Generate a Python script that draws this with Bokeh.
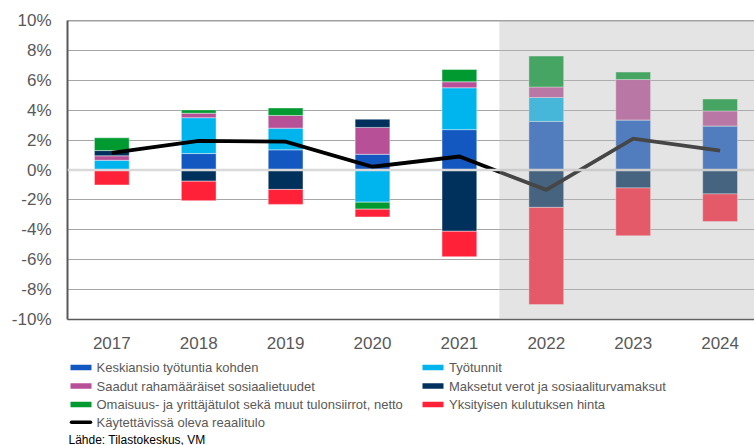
from bokeh.plotting import figure
from bokeh.models import (Range1d, FixedTicker, PrintfTickFormatter, Span, BoxAnnotation)
from bokeh.layouts import column
from bokeh.core.properties import value
from bokeh.embed import file_html
from bokeh.resources import INLINE

# ---------------- data ----------------
years = ["2017", "2018", "2019", "2020", "2021", "2022", "2023", "2024"]
series_names = [
    "Keskiansio työtuntia kohden",
    "Työtunnit",
    "Saadut rahamääräiset sosiaalietuudet",
    "Maksetut verot ja sosiaaliturvamaksut",
    "Omaisuus- ja yrittäjätulot sekä muut tulonsiirrot, netto",
    "Yksityisen kulutuksen hinta",
]
line_name = "Käytettävissä oleva reaalitulo"
source_note = "Lähde: Tilastokeskus, VM"

keskiansio = [0.0, 1.1, 1.35, 1.05, 2.7, 3.25, 3.35, 2.95]
tyotunnit = [0.65, 2.4, 1.45, -2.15, 2.8, 1.6, 0.0, 0.0]
saadut = [0.3, 0.3, 0.85, 1.8, 0.4, 0.7, 2.7, 1.0]
maksetut = [0.35, -0.75, -1.3, 0.55, -4.1, -2.5, -1.2, -1.6]
omaisuus = [0.85, 0.22, 0.5, -0.47, 0.82, 2.07, 0.5, 0.8]
hinta = [-1.0, -1.3, -1.0, -0.52, -1.7, -6.5, -3.2, -1.85]
reaalitulo = [1.15, 1.95, 1.9, 0.22, 0.9, -1.33, 2.1, 1.3]

y_ticks = [-10, -8, -6, -4, -2, 0, 2, 4, 6, 8, 10]
forecast_start = 4.46  # boundary of shaded forecast area (in category units)

colors = ["#1358C0", "#00B5EE", "#B85098", "#00305C", "#009A30", "#FF2138"]
series = [keskiansio, tyotunnit, saadut, maksetut, omaisuus, hinta]

FONT = "Liberation Sans"
GRAY_TXT = "#595959"
LEFT = 67

# ---------------- main chart ----------------
xs = list(range(len(years)))
p = figure(width=754, height=356, output_backend="svg", toolbar_location=None,
           x_range=Range1d(-0.51, 7.396), y_range=Range1d(-10, 10),
           min_border_left=LEFT, min_border_right=0, min_border_top=20,
           min_border_bottom=37)
p.outline_line_color = None
p.background_fill_color = "white"
p.border_fill_color = "white"

# stacking (positive and negative separately, in series order)
pos = [0.0] * len(years)
neg = [0.0] * len(years)
for vals, col in zip(series, colors):
    bottoms, tops = [], []
    for i, v in enumerate(vals):
        if v >= 0:
            bottoms.append(pos[i]); tops.append(pos[i] + v); pos[i] += v
        else:
            bottoms.append(neg[i]); tops.append(neg[i] + v); neg[i] += v
    p.vbar(x=xs, bottom=bottoms, top=tops, width=0.4, fill_color=col,
           line_color="white", line_width=0.6, line_alpha=0.7)

zero = Span(location=0, dimension="width", line_color="#D9D9D9", line_width=2.5)
p.add_layout(zero)

p.line(x=xs, y=reaalitulo, line_color="black", line_width=3.8, line_join="miter")

top_line = Span(location=10, dimension="width", line_color="#404040", line_width=1.5)
p.add_layout(top_line)

shade = BoxAnnotation(left=forecast_start, bottom=-10, top=10, fill_color="#B8B8B8",
                      fill_alpha=0.38, line_color=None, level="overlay")
p.add_layout(shade)

# axes
p.xgrid.visible = False
p.ygrid.ticker = FixedTicker(ticks=[t for t in y_ticks if t not in (0, 10, -10)])
p.ygrid.grid_line_color = "#A6A6A6"
p.ygrid.grid_line_width = 1

p.yaxis.ticker = FixedTicker(ticks=y_ticks)
p.yaxis.formatter = PrintfTickFormatter(format="%d%%")
p.xaxis.ticker = FixedTicker(ticks=xs)
p.xaxis.major_label_overrides = {i: y for i, y in enumerate(years)}
for ax in (p.xaxis, p.yaxis):
    ax.axis_line_color = "#595959"
    ax.major_tick_line_color = None
    ax.minor_tick_line_color = None
    ax.major_tick_out = 0
    ax.major_tick_in = 0
    ax.major_label_text_font = FONT
    ax.major_label_text_font_size = "17px"
    ax.major_label_text_color = GRAY_TXT
p.yaxis.axis_line_width = 2
p.xaxis.axis_line_width = 1.5
p.yaxis.major_label_standoff = 16
p.xaxis.major_label_standoff = 17

# ---------------- legend (separate panel, pixel coordinates) ----------------
LG_H = 89
lg = figure(width=754, height=LG_H, output_backend="svg", toolbar_location=None,
            x_range=Range1d(LEFT, 754), y_range=Range1d(LG_H, 0),
            x_axis_type=None, y_axis_type=None,
            min_border_left=LEFT, min_border_right=0, min_border_top=0, min_border_bottom=0)
lg.outline_line_color = None
lg.xgrid.visible = False
lg.ygrid.visible = False
lg.background_fill_color = "white"
lg.border_fill_color = "white"

row_y = [11, 29.5, 48, 65.7]
col_sw = [70, 422]
col_tx = [96, 448.5]
for k, (name, col) in enumerate(zip(series_names, colors)):
    r, c = k // 2, k % 2
    lg.quad(left=[col_sw[c]], right=[col_sw[c] + 21], top=[row_y[r] - 2.8],
            bottom=[row_y[r] + 2.8], fill_color=col, line_color=None)
    lg.text(x=[col_tx[c]], y=[row_y[r]], text=[name], text_font=value(FONT),
            text_font_size="13px", text_color=GRAY_TXT, text_baseline="middle")
lg.line(x=[col_sw[0] + 1, col_sw[0] + 20], y=[row_y[3], row_y[3]], line_color="black",
        line_width=3.5, line_cap="round")
lg.text(x=[col_tx[0]], y=[row_y[3]], text=[line_name], text_font=value(FONT),
        text_font_size="13px", text_color=GRAY_TXT, text_baseline="middle")
lg.text(x=[68], y=[83], text=[source_note], text_font=value(FONT),
        text_font_size="12px", text_color="black", text_baseline="middle")

layout = column(p, lg, spacing=0)
open("out.html", "w").write(file_html(layout, INLINE))
